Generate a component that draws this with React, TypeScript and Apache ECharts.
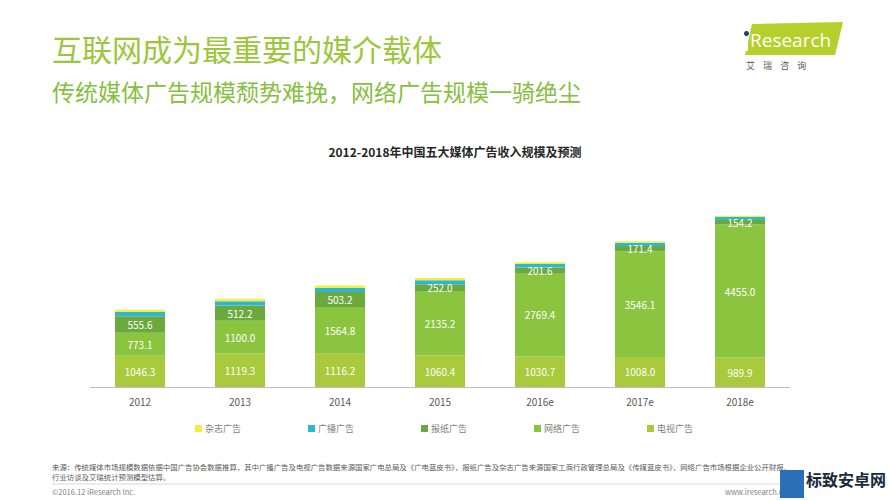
import React, { useEffect, useRef } from "react";
import * as echarts from "echarts";

const categories = ["2012", "2013", "2014", "2015", "2016e", "2017e", "2018e"];
const tvAds = [1046.3, 1119.3, 1116.2, 1060.4, 1030.7, 1008.0, 989.9];
const internetAds = [773.1, 1100.0, 1564.8, 2135.2, 2769.4, 3546.1, 4455.0];
const newspaperAds = [555.6, 512.2, 503.2, 252.0, 201.6, 171.4, 154.2];
const radioAds = [135, 141, 133, 128, 118, 112, 100];
const magazineAds = [80, 87, 82, 75, 60, 50, 40];
const legendOrder = ["杂志广告", "广播广告", "报纸广告", "网络广告", "电视广告"];

const FONT = "'Noto Sans CJK SC', 'Noto Sans', sans-serif";

export default function App() {
  const ref = useRef<HTMLDivElement>(null);
  useEffect(() => {
    if (!ref.current) return;
    const chart = echarts.init(ref.current, null, { renderer: "svg" });
    const label = (show: boolean) => ({
      show,
      position: "inside" as const,
      color: "#ffffff",
      fontSize: 10,
      fontFamily: FONT,
      formatter: (p: any) => Number(p.value).toFixed(1),
    });
    const mk = (name: string, data: number[], color: string, showLabel: boolean) => ({
      name,
      type: "bar" as const,
      stack: "total",
      data,
      barWidth: "50%",
      itemStyle: { color },
      label: label(showLabel),
      emphasis: { disabled: true },
    });
    chart.setOption({
      animation: false,
      backgroundColor: "#ffffff",
      title: {
        text: "2012-2018年中国五大媒体广告收入规模及预测",
        left: 450,
        top: 140,
        textAlign: "center",
        textStyle: { fontSize: 12, fontWeight: "bold", color: "#262626", fontFamily: FONT },
      },
      legend: {
        data: legendOrder,
        top: 419,
        left: 190,
        itemGap: 67,
        itemWidth: 7,
        itemHeight: 7,
        icon: "rect",
        textStyle: { fontSize: 9, color: "#7f7f7f", fontFamily: FONT, padding: [0, 0, 0, -2] },
      },
      grid: { left: 90, right: 99, top: 208, bottom: 113, containLabel: false },
      xAxis: {
        type: "category",
        data: categories,
        axisLine: { lineStyle: { color: "#bfbfbf" } },
        axisTick: { show: false },
        axisLabel: { color: "#595959", fontSize: 10, margin: 9, fontFamily: FONT },
      },
      yAxis: {
        type: "value",
        min: 0,
        max: 6000,
        show: false,
        splitLine: { show: false },
      },
      series: [
        mk("电视广告", tvAds, "#a9ca3c", true),
        mk("网络广告", internetAds, "#8bc43f", true),
        mk("报纸广告", newspaperAds, "#6aa93d", true),
        mk("广播广告", radioAds, "#2db7d5", false),
        mk("杂志广告", magazineAds, "#f3ef3c", false),
      ],
      graphic: [
        {
          type: "text",
          left: 52,
          top: 33,
          style: { text: "互联网成为最重要的媒介载体", fontSize: 30, fill: "#9cc63c", fontFamily: FONT },
        },
        {
          type: "text",
          left: 52,
          top: 79,
          style: {
            text: "传统媒体广告规模颓势难挽，网络广告规模一骑绝尘",
            fontSize: 23,
            fill: "#86c040",
            fontFamily: FONT,
          },
        },
        {
          type: "polygon",
          shape: { points: [[752, 24], [843, 22], [835, 55], [745, 55]] },
          style: { fill: "#b5cf2c" },
        },
        {
          type: "rect",
          shape: { x: 745, y: 38, width: 3, height: 13 },
          style: { fill: "#ffffff" },
        },
        {
          type: "circle",
          shape: { cx: 746.5, cy: 33.5, r: 2.5 },
          style: { fill: "#1f3f6b" },
        },
        {
          type: "text",
          x: 750,
          y: 30,
          style: { text: "Research", fontSize: 19, fill: "#ffffff", fontFamily: "'Open Sans', sans-serif" },
        },
        {
          type: "text",
          x: 746,
          y: 61,
          style: { text: "艾    瑞    咨    询", fontSize: 9, fill: "#595959", fontFamily: FONT },
        },
        {
          type: "text",
          x: 52,
          y: 461,
          style: {
            text:
              "来源：传统媒体市场规模数据依据中国广告协会数据推算，其中广播广告及电视广告数据来源国家广电总局及《广电蓝皮书》，报纸广告及杂志广告来源国家工商行政管理总局及《传媒蓝皮书》，网络广告市场根据企业公开财报、\n行业访谈及艾瑞统计预测模型估算。",
            fontSize: 7.4,
            lineHeight: 10,
            fill: "#595959",
            fontFamily: FONT,
          },
        },
        {
          type: "line",
          shape: { x1: 52, y1: 484, x2: 836, y2: 484 },
          style: { stroke: "#d9d9d9", lineWidth: 1 },
        },
        {
          type: "text",
          x: 52,
          y: 488,
          style: { text: "©2016.12 iResearch Inc.", fontSize: 7.5, fill: "#7f7f7f", fontFamily: FONT },
        },
        {
          type: "text",
          x: 725,
          y: 488,
          style: { text: "www.iresearch.com.cn", fontSize: 7.5, fill: "#7f7f7f", fontFamily: FONT },
        },
        {
          type: "rect",
          shape: { x: 780, y: 470, width: 24, height: 28 },
          style: { fill: "#2a6fb8" },
        },
        {
          type: "text",
          x: 806,
          y: 471,
          style: { text: "标致安卓网", fontSize: 16, fontWeight: "bold", fill: "#1a2a3a", fontFamily: FONT },
        },
      ],
    });
    return () => chart.dispose();
  }, []);
  return (
    <div
      ref={ref}
      style={{ position: "fixed", left: 0, top: 0, width: 889, height: 500 }}
    />
  );
}
